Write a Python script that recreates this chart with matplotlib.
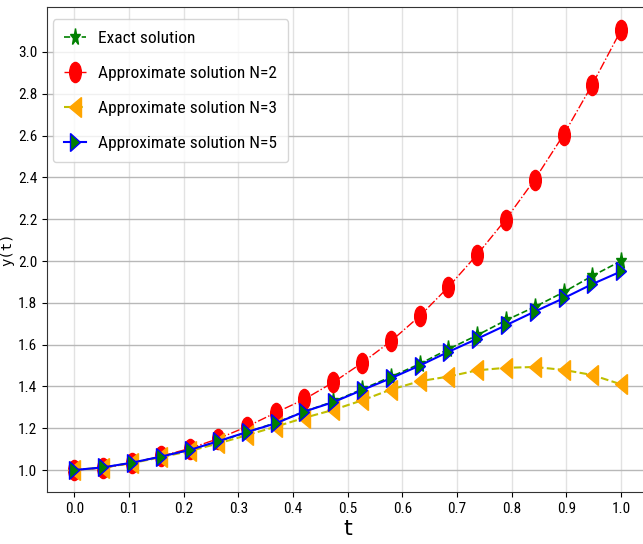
import matplotlib
matplotlib.use("Agg")
import matplotlib.pyplot as plt
from matplotlib import font_manager
from matplotlib.markers import MarkerStyle
from matplotlib.transforms import Affine2D

# ----------------------------------------------------------------------
# data
# ----------------------------------------------------------------------
t = [0.000, 0.053, 0.105, 0.158, 0.211, 0.263, 0.316, 0.368, 0.421, 0.474,
     0.526, 0.579, 0.632, 0.684, 0.737, 0.789, 0.842, 0.895, 0.947, 1.000]

y_exact = [1.000, 1.012, 1.035, 1.064, 1.097, 1.136, 1.181, 1.226, 1.280, 1.328,
           1.386, 1.446, 1.508, 1.578, 1.645, 1.716, 1.780, 1.851, 1.928, 2.000]
y_n2 = [1.000, 1.010, 1.033, 1.066, 1.103, 1.150, 1.208, 1.274, 1.339, 1.420,
        1.512, 1.616, 1.737, 1.875, 2.031, 2.198, 2.389, 2.604, 2.842, 3.104]
y_n3 = [1.000, 1.012, 1.033, 1.061, 1.091, 1.127, 1.167, 1.207, 1.250, 1.288,
        1.333, 1.385, 1.425, 1.447, 1.477, 1.489, 1.493, 1.479, 1.455, 1.410]
y_n5 = [1.000, 1.013, 1.035, 1.064, 1.096, 1.138, 1.182, 1.223, 1.280, 1.325,
        1.382, 1.439, 1.500, 1.565, 1.628, 1.692, 1.758, 1.822, 1.889, 1.950]

labels = ["Exact solution", "Approximate solution N=2",
          "Approximate solution N=3", "Approximate solution N=5"]

xticks = [0.0, 0.1, 0.2, 0.3, 0.4, 0.5, 0.6, 0.7, 0.8, 0.9, 1.0]
yticks = [1.0, 1.2, 1.4, 1.6, 1.8, 2.0, 2.2, 2.4, 2.6, 2.8, 3.0]

# ----------------------------------------------------------------------
# style
# ----------------------------------------------------------------------
# the reference text looks horizontally compressed -> narrowest font we have
names = {f.name for f in font_manager.fontManager.ttflist}
family = "DejaVu Sans"
for cand in ["Liberation Sans Narrow", "Roboto Condensed", "Liberation Sans"]:
    if cand in names:
        family = cand
        break
plt.rcParams["font.family"] = [family, "DejaVu Sans"]


def squished(m, sx=0.6):
    # markers in the reference are taller than wide
    return MarkerStyle(m, transform=Affine2D().scale(sx, 1.0))


fig = plt.figure(figsize=(6.43, 5.44), dpi=100)
ax = fig.add_axes([0.0731, 0.0956, 0.9352, 0.8915])

ax.plot(t, y_exact, "--", color="green", lw=1.2, marker=squished("*"),
        ms=13, mfc="green", mec="green", label=labels[0])
ax.plot(t, y_n2, "-.", color="red", lw=1.0, marker=squished("o", 0.58),
        ms=14.5, mfc="red", mec="red", label=labels[1])
ax.plot(t, y_n3, "--", color="y", lw=1.5, marker=squished("<"),
        ms=14.5, mfc="orange", mec="orange", label=labels[2])
ax.plot(t, y_n5, "-", color="blue", lw=1.5, marker=squished(">"),
        ms=12.5, mfc="green", mec="blue", mew=1.0, label=labels[3])

ax.set_xlim(-0.05, 1.05)
ax.set_ylim(0.895, 3.215)
ax.set_xticks(xticks)
ax.set_yticks(yticks)
ax.tick_params(labelsize=11)

ax.grid(True, axis="y", color="#b8b8b8", lw=1.0)
ax.grid(True, axis="x", color="#e2e2e2", lw=1.0)
ax.set_axisbelow(True)
for s in ax.spines.values():
    s.set_color("#333333")

ax.set_xlabel("t", fontsize=16, family="DejaVu Sans")
ax.xaxis.set_label_coords(0.5, -0.056)
ax.set_ylabel("y(t)", fontsize=10, family="DejaVu Sans Mono")
ax.yaxis.set_label_coords(-0.054, 0.5)

ax.legend(loc="upper left", bbox_to_anchor=(0.01, 0.975), borderaxespad=0,
          fontsize=12.5, handlelength=1.25, labelspacing=1.15,
          handletextpad=0.7, borderpad=0.65)

fig.savefig("out.png", dpi=100)
